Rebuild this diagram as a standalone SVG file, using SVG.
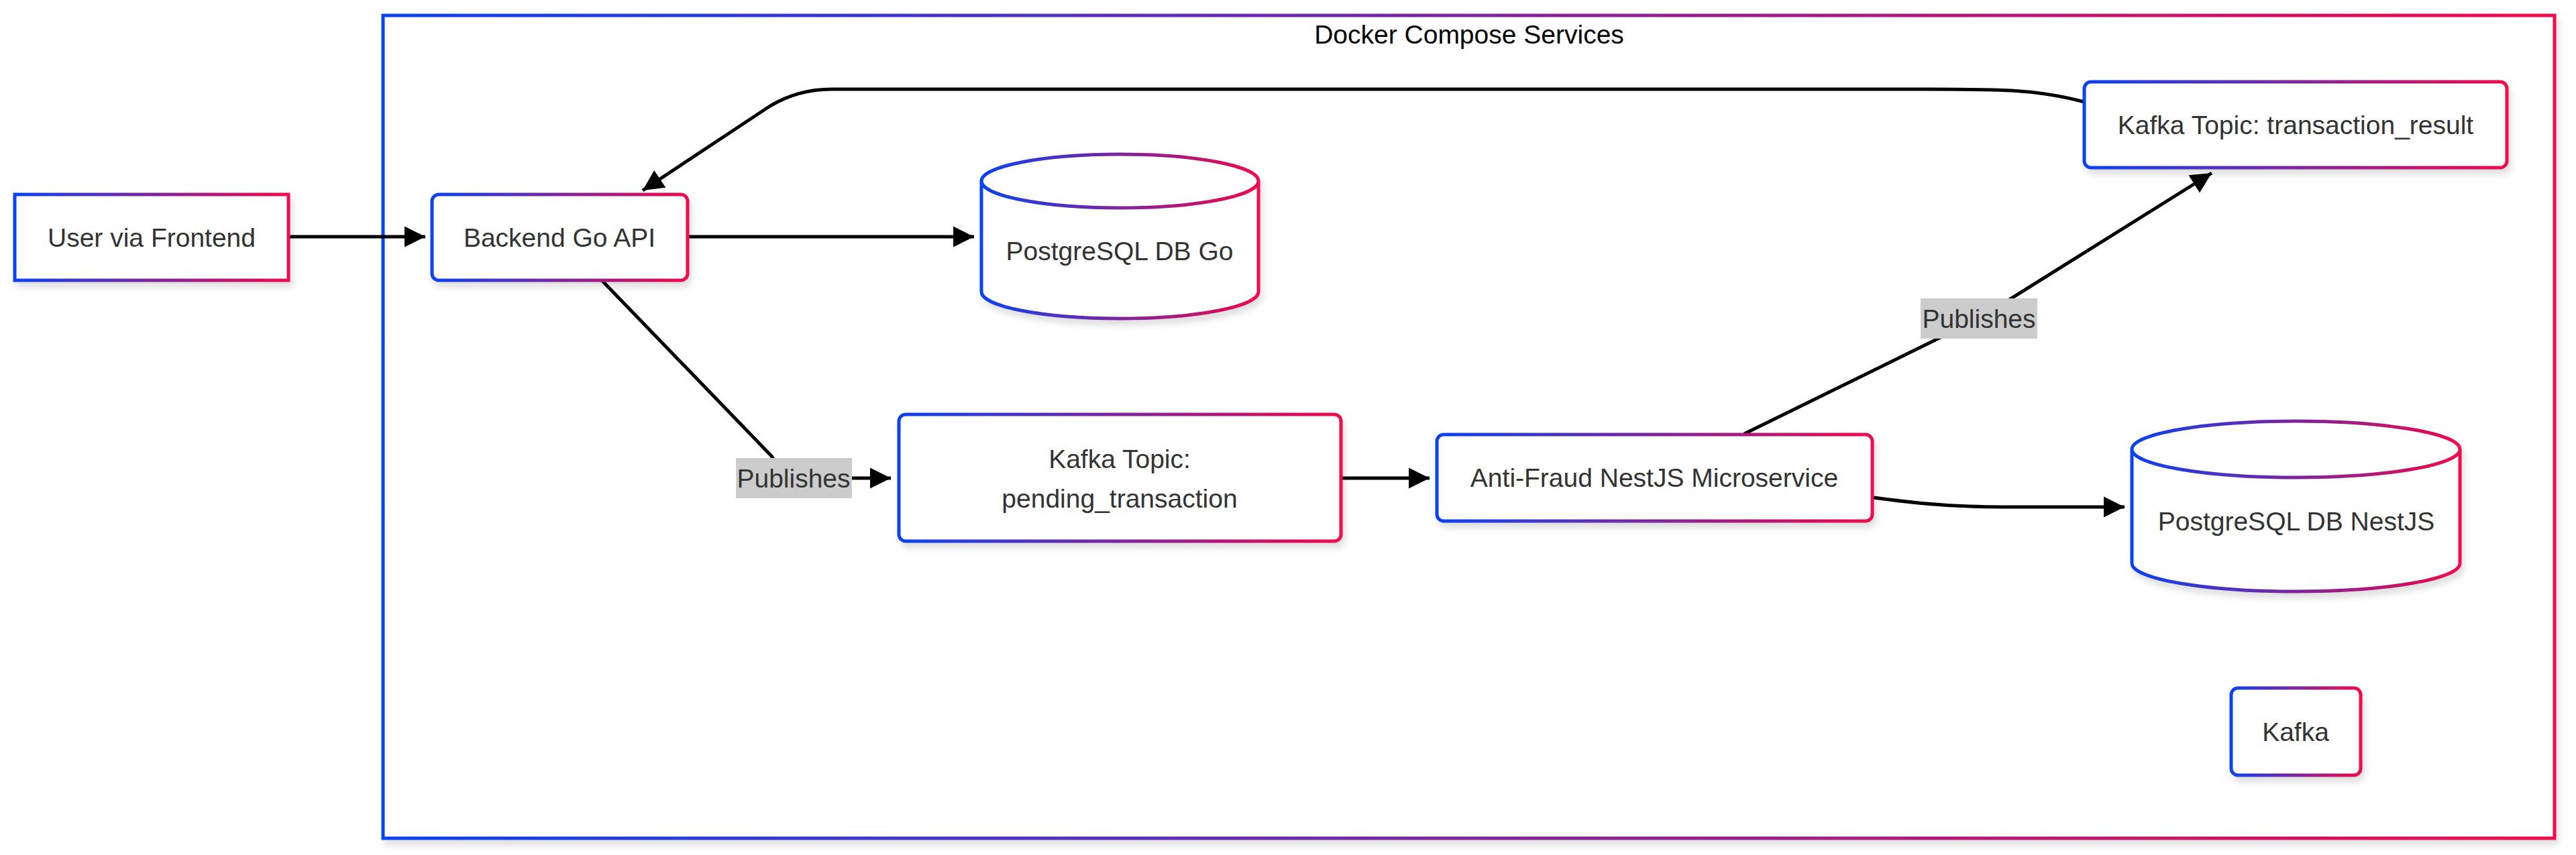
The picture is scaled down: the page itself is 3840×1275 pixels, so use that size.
<svg xmlns="http://www.w3.org/2000/svg" width="3840" height="1275" viewBox="0 0 3840 1275">
  <defs>
    <linearGradient id="grad" x1="0" y1="0" x2="1" y2="0">
      <stop offset="0" stop-color="#0a42f0"/>
      <stop offset="1" stop-color="#f0084a"/>
    </linearGradient>
    <filter id="shadow" x="-10%" y="-10%" width="130%" height="140%">
      <feDropShadow dx="4" dy="8" stdDeviation="5" flood-color="#000" flood-opacity="0.12"/>
    </filter>
    <marker id="arrow" viewBox="0 0 10 10" refX="10" refY="5" markerUnits="userSpaceOnUse" markerWidth="31" markerHeight="34" orient="auto">
      <path d="M0,0 L10,5 L0,10 z" fill="#000"/>
    </marker>
    <style>
      .node { fill: #ffffff; stroke: url(#grad); stroke-width: 5; filter: url(#shadow); }
      .cluster { fill: #ffffff; stroke: url(#grad); stroke-width: 5; filter: url(#shadow); }
      .label { font-family: "Liberation Sans", Arial, sans-serif; font-size: 39px; fill: #333333; text-anchor: middle; dominant-baseline: central; }
      .title { font-family: "Liberation Sans", Arial, sans-serif; font-size: 39px; fill: #000000; text-anchor: middle; dominant-baseline: central; }
      .edge { fill: none; stroke: #000000; stroke-width: 5; marker-end: url(#arrow); }
      .edgebg { fill: #cccccc; }
    </style>
  </defs>
  <rect width="3840" height="1275" fill="#ffffff"/>

  <g id="cluster-docker">
    <rect class="cluster" x="571" y="23" width="3237" height="1227"/>
    <text class="title" x="2190" y="51">Docker Compose Services</text>
  </g>

  <g id="connectors">
    <path class="edge" d="M431,353 L634,353"/>
    <path class="edge" d="M1026,353 L1452,353"/>
    <path class="edge" d="M898,419 L1150,680 Q1170,713 1210,713 L1328,713"/>
    <path class="edge" d="M1999,713 L2131,713"/>
    <path class="edge" d="M2600,647 L2950,475 L3297,258"/>
    <path class="edge" d="M3107,152 C3040,134 2990,133 2870,133 L1240,133 Q1190,133 1148,158 L958,284"/>
    <path class="edge" d="M2793,742 C2880,754 2930,756 3000,756 L3167,756"/>
    <g id="edge-label-1">
      <rect class="edgebg" x="1097" y="683" width="173" height="60"/>
      <text class="label" x="1183" y="713">Publishes</text>
    </g>
    <g id="edge-label-2">
      <rect class="edgebg" x="2863" y="445" width="174" height="60"/>
      <text class="label" x="2950" y="475">Publishes</text>
    </g>
  </g>

  <g id="node-user">
    <rect class="node" x="22" y="290" width="408" height="128"/>
    <text class="label" x="226" y="354">User via Frontend</text>
  </g>

  <g id="node-backend">
    <rect class="node" x="644" y="290" width="381" height="128" rx="10" ry="10"/>
    <text class="label" x="834" y="354">Backend Go API</text>
  </g>

  <g id="node-pg-go">
    <path class="node" d="M1463,270 a206.5,40 0 0,0 413,0 a206.5,40 0 0,0 -413,0 l0,165 a206.5,40 0 0,0 413,0 l0,-165"/>
    <text class="label" x="1669" y="374">PostgreSQL DB Go</text>
  </g>

  <g id="node-kafka-result">
    <rect class="node" x="3107" y="122" width="630" height="128" rx="10" ry="10"/>
    <text class="label" x="3422" y="186">Kafka Topic: transaction_result</text>
  </g>

  <g id="node-kafka-pending">
    <rect class="node" x="1340" y="618" width="659" height="189" rx="10" ry="10"/>
    <text class="label" x="1669" y="684">Kafka Topic:</text>
    <text class="label" x="1669" y="743">pending_transaction</text>
  </g>

  <g id="node-antifraud">
    <rect class="node" x="2142" y="648" width="649" height="129" rx="10" ry="10"/>
    <text class="label" x="2466" y="712">Anti-Fraud NestJS Microservice</text>
  </g>

  <g id="node-pg-nest">
    <path class="node" d="M3178,670 a244.5,42 0 0,0 489,0 a244.5,42 0 0,0 -489,0 l0,170 a244.5,42 0 0,0 489,0 l0,-170"/>
    <text class="label" x="3423" y="777">PostgreSQL DB NestJS</text>
  </g>

  <g id="node-kafka">
    <rect class="node" x="3326" y="1026" width="193" height="130" rx="10" ry="10"/>
    <text class="label" x="3422" y="1091">Kafka</text>
  </g>
</svg>
